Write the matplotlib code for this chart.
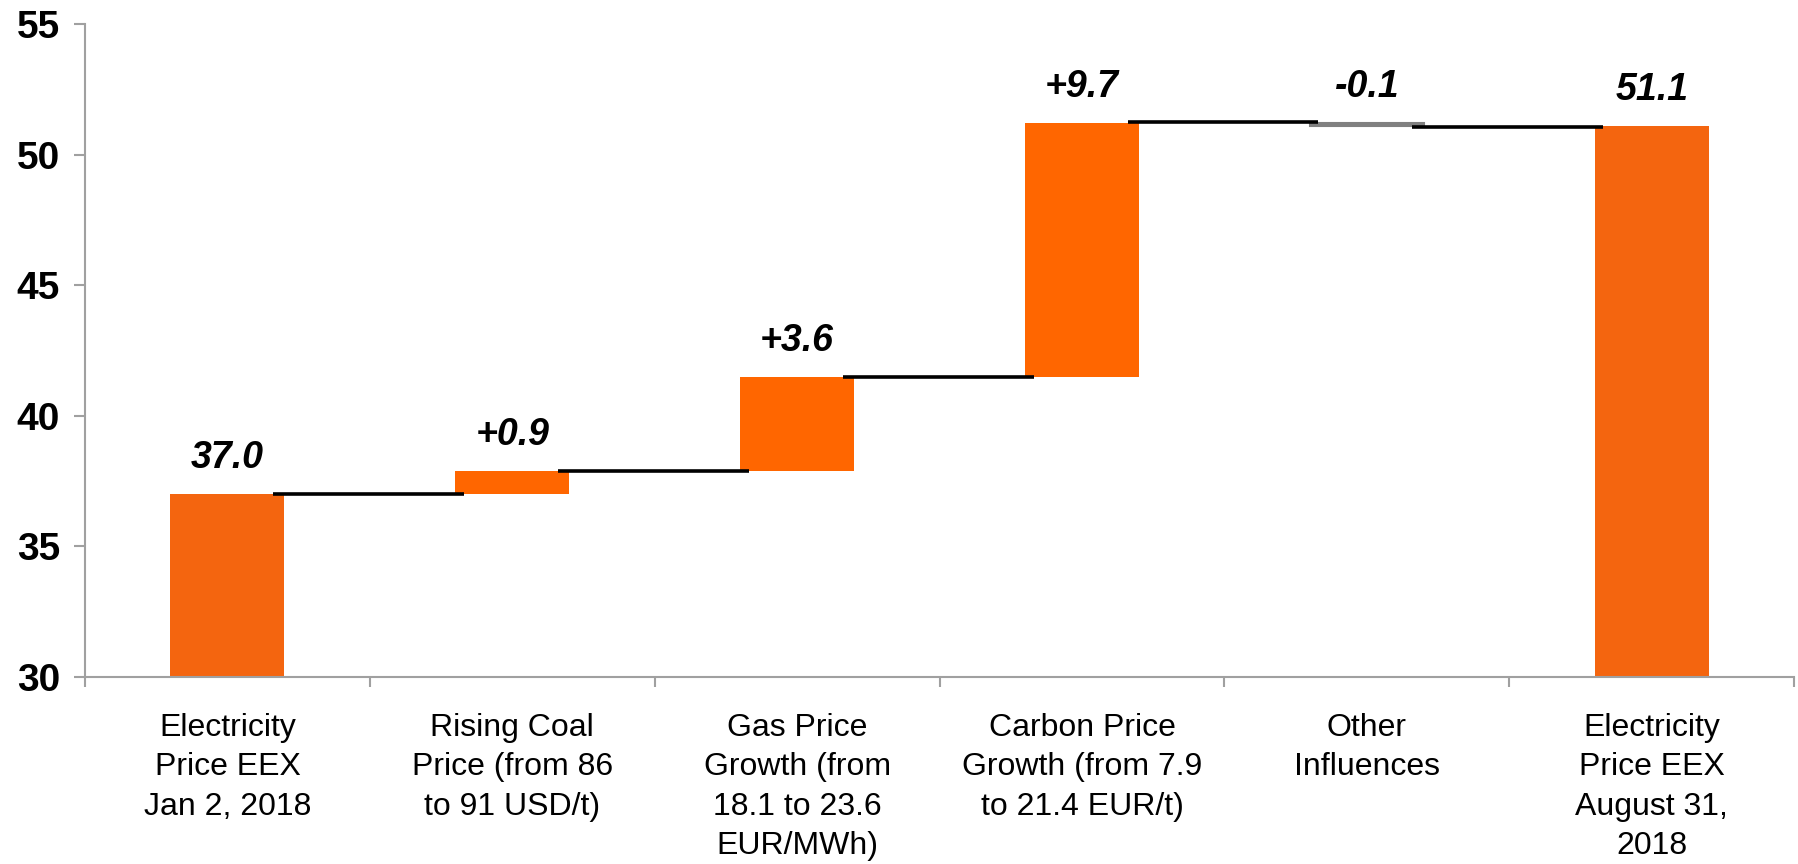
import matplotlib.pyplot as plt
import numpy as np

plt.rcParams['font.family'] = ['Liberation Sans', 'DejaVu Sans']

# waterfall data (EUR/MWh)
categories = ['Electricity\nPrice EEX\nJan 2, 2018',
              'Rising Coal\nPrice (from 86\nto 91 USD/t)',
              'Gas Price\nGrowth (from\n18.1 to 23.6\nEUR/MWh)',
              'Carbon Price\nGrowth (from 7.9\nto 21.4 EUR/t)',
              'Other\nInfluences',
              'Electricity\nPrice EEX\nAugust 31,\n2018']
steps = [37.0, 0.9, 3.6, 9.7, -0.1, 51.1]
is_total = [True, False, False, False, False, True]
value_labels = ['37.0', '+0.9', '+3.6', '+9.7', '-0.1', '51.1']

total_color = '#F4650F'
up_color = '#FF6600'
down_color = '#808080'
axis_color = '#A0A0A0'

fig = plt.figure(figsize=(17.98, 8.64), dpi=100)
ax = fig.add_axes([0.0473, 0.2164, 0.9505, 0.7558])

x = np.arange(len(categories))
width = 0.4
running = 0.0
bottoms = []
tops = []
for i in range(len(steps)):
    if is_total[i]:
        b = 0.0
        h = steps[i]
        running = steps[i]
        col = total_color
    else:
        b = running if steps[i] >= 0 else running + steps[i]
        h = abs(steps[i])
        running = running + steps[i]
        col = up_color if steps[i] >= 0 else down_color
    # small negative bar gets an outline so it stays visible like in the source
    ax.bar(x[i], h, width=width, bottom=b, color=col, zorder=2,
           edgecolor=col if steps[i] < 0 else 'none', linewidth=1.5)
    bottoms.append(b)
    tops.append(b + h)

# connectors between bars
for i in range(len(steps) - 1):
    lvl = tops[i]
    if steps[i + 1] < 0 and not is_total[i + 1]:
        lvl = tops[i] + 0.03
    if i == 4:
        lvl = bottoms[i] - 0.03
    ax.plot([x[i] + width / 2 - 0.04, x[i + 1] - width / 2 + 0.03], [lvl, lvl],
            color='black', lw=2.6, zorder=3, solid_capstyle='butt')

# value labels
for i in range(len(steps)):
    ax.annotate(value_labels[i], (x[i], tops[i]), xytext=(0, 13),
                textcoords='offset points', ha='center', va='bottom',
                fontsize=27, fontweight='bold', fontstyle='italic')

ax.set_xlim(-0.5, 5.5)
ax.set_ylim(30, 55)
ax.set_yticks([30, 35, 40, 45, 50, 55])
ax.tick_params(axis='y', labelsize=28, length=8, width=1.5, color=axis_color, pad=10)
for t in ax.get_yticklabels():
    t.set_fontweight('bold')

ax.set_xticks(np.arange(-0.5, 6, 1.0))
ax.set_xticklabels([])
ax.tick_params(axis='x', which='major', length=7, width=1.5, color=axis_color)
ax.set_xticks(x, minor=True)
ax.set_xticklabels(categories, minor=True, fontsize=23, linespacing=1.4)
ax.tick_params(axis='x', which='minor', length=0, pad=26)

for s in ['top', 'right']:
    ax.spines[s].set_visible(False)
for s in ['left', 'bottom']:
    ax.spines[s].set_color(axis_color)
    ax.spines[s].set_linewidth(1.5)

fig.savefig('out.png', dpi=100)
